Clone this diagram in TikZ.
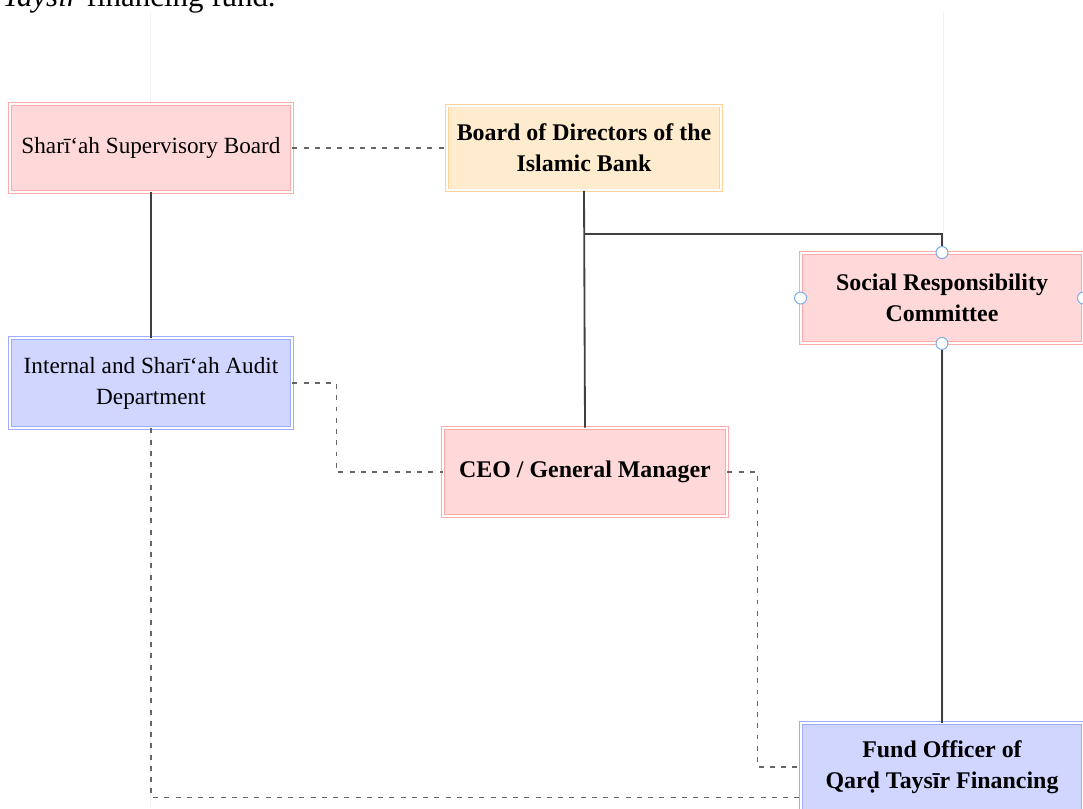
\documentclass[tikz,border=0pt]{standalone}
\usepackage{fontspec}
\setmainfont{Liberation Serif}
\usetikzlibrary{positioning}
\definecolor{pinkfill}{RGB}{255,217,217}
\definecolor{pinkline}{RGB}{255,170,170}
\definecolor{sandfill}{RGB}{255,236,206}
\definecolor{sandline}{RGB}{255,212,150}
\definecolor{bluefill}{RGB}{208,214,255}
\definecolor{blueline}{RGB}{158,172,255}
\definecolor{handleline}{RGB}{120,170,230}
\begin{document}
\begin{tikzpicture}[
  x=0.025cm, y=-0.025cm,
  unit/.style={draw, double=white, double distance=1.4pt, line width=0.6pt,
    minimum width=7.05cm, minimum height=2.2cm, inner sep=0pt, align=center,
    font=\fontsize{16.5}{22}\selectfont},
  headunit/.style={unit, font=\fontsize{17}{22}\selectfont\bfseries},
  pinkunit/.style={draw=pinkline, fill=pinkfill},
  sandunit/.style={draw=sandline, fill=sandfill},
  blueunit/.style={draw=blueline, fill=bluefill},
  line/.style={line width=1.3pt, draw=black!75},
  dashline/.style={line width=1.3pt, draw=black!60, dash pattern=on 3.5pt off 4.5pt},
  handle/.style={draw=handleline, fill=white, line width=0.7pt}
]
\useasboundingbox (0,0) rectangle (1083,808);
% faint page guides
\draw[black!5, line width=0.5pt] (150,12) -- (150,808);
\draw[black!5, line width=0.5pt] (943,12) -- (943,808);
% caption line above the chart
\node[anchor=base east, inner sep=0pt, font=\fontsize{22}{26}\selectfont]
  (caption) at (276,7) {\textit{Taysīr} financing fund.};

\node[unit, pinkunit] (ssb) at (151,148) {Sharī‘ah Supervisory Board};
\node[headunit, sandunit, minimum width=6.85cm, minimum height=2.12cm] (bod) at (584,148)
  {Board of Directors of the\\Islamic Bank};
\node[unit, blueunit, minimum height=2.25cm] (audit) at (151,383)
  {Internal and Sharī‘ah Audit\\Department};
\node[headunit, pinkunit, minimum height=2.25cm] (src) at (942,298)
  {Social Responsibility\\Committee};
\node[headunit, pinkunit, minimum width=7.1cm] (ceo) at (585,472) {CEO / General Manager};
\node[headunit, blueunit] (fund) at (942,767)
  {Fund Officer of\\Qarḍ Taysīr Financing};

\draw[dashline] (ssb.east) -- (bod.west);
\draw[line] (ssb.south) -- (audit.north);
\draw[line] (bod.south) -- (ceo.north);
\draw[line] (bod.south) ++(0,43) -| (src.north);
\draw[line] (src.south) -- (fund.north);
\draw[dashline] (audit.east) -- ++(44,0) |- (ceo.west);
\draw[dashline] (ceo.east) -- ++(30,0) |- (fund.west);
\draw[dashline] (audit.south) |- ([yshift=0.35cm]fund.south west);

\foreach \a in {north,south,west,east}
  \draw[handle] (src.\a) circle (0.15cm);
\end{tikzpicture}
\end{document}
